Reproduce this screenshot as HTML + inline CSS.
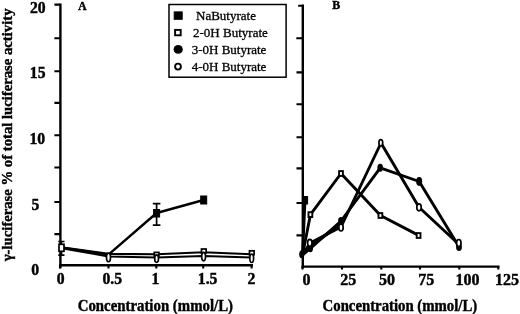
<!DOCTYPE html>
<html><head><meta charset="utf-8"><title>Figure</title>
<style>
html,body{margin:0;padding:0;background:#fff;}
svg{display:block;}
text{font-family:"Liberation Serif",serif;fill:#000;}
.b{font-weight:bold;stroke:#000;stroke-width:0.42;}
.ax{stroke:#000;stroke-width:2.4;fill:none;stroke-linecap:square;}
.tk{stroke:#000;stroke-width:2.1;fill:none;}
.ln{stroke:#000;fill:none;stroke-linejoin:round;stroke-linecap:round;}
.eb{stroke:#000;stroke-width:1.7;fill:none;}
.fs{fill:#000;stroke:#000;stroke-width:1;}
.os2{fill:#fff;stroke:#000;stroke-width:1.9;}
.os{fill:#fff;stroke:#000;stroke-width:1.7;}
</style></head><body>
<svg width="520" height="314" viewBox="0 0 520 314">
<rect width="520" height="314" fill="#fff"/>

<!-- Y axis title -->
<text class="b" transform="translate(11.6,261.3) rotate(-90)" font-size="15" textLength="252.8" lengthAdjust="spacingAndGlyphs">γ-luciferase % of total luciferase activity</text>

<!-- LEFT PANEL axes -->
<path class="ax" d="M60.4,4.6 V267"/>
<path class="ax" d="M60.4,265.2 H251.8"/>
<g class="tk">
<path d="M54.4,4.6H60 M54.4,38.2H60 M54.4,71.2H60 M54.4,102.9H60 M54.4,135.2H60 M54.4,167.5H60 M54.4,202H60 M54.4,234.1H60"/>
<path d="M60,265V268.6 M108.5,265V268.6 M156.3,265V268.6 M203.2,265V268.6 M251.6,265V268.6"/>
</g>
<g class="b" font-size="15.7">
<text x="30" y="13">20</text>
<text x="29.8" y="77.7">15</text>
<text x="29.5" y="143.5">10</text>
<text x="31.5" y="210.3">5</text>
<text x="31.3" y="274.5">0</text>
<text x="56.8" y="283.7">0</text>
<text x="102.4" y="283.7">0.5</text>
<text x="151.6" y="284.2">1</text>
<text x="197.8" y="284.2">1.5</text>
<text x="247.5" y="284.2">2</text>
</g>
<text class="b" x="77.7" y="310.8" font-size="16.3" textLength="155.3" lengthAdjust="spacingAndGlyphs">Concentration (mmol/L)</text>
<text class="b" x="78.3" y="9.8" font-size="11.5">A</text>

<!-- legend -->
<rect x="169" y="4.5" width="117.1" height="72.7" fill="#fff" stroke="#000" stroke-width="1.5"/>
<rect class="fs" x="174.2" y="11.9" width="8" height="7.4"/>
<rect x="175.1" y="29.9" width="5.6" height="5.4" fill="#fff" stroke="#000" stroke-width="1.9"/>
<ellipse cx="178.2" cy="49.4" rx="4.6" ry="4.3" fill="#000"/>
<ellipse cx="178" cy="66.6" rx="2.9" ry="3" fill="#fff" stroke="#000" stroke-width="1.9"/>
<g font-size="13" stroke="#000" stroke-width="0.3">
<text x="196" y="19.5" textLength="60" lengthAdjust="spacingAndGlyphs">NaButyrate</text>
<text x="193" y="36.7" textLength="74.8" lengthAdjust="spacingAndGlyphs">2-0H Butyrate</text>
<text x="191.7" y="53.5" textLength="74.7" lengthAdjust="spacingAndGlyphs">3-0H Butyrate</text>
<text x="191.7" y="70.6" textLength="74.7" lengthAdjust="spacingAndGlyphs">4-0H Butyrate</text>
</g>

<!-- LEFT data -->
<g class="ln" stroke-width="2.2">
<path d="M61.5,247.6 L108.5,254.6 L156.6,213 L203.7,200" stroke-width="2.4"/>
<path d="M61.5,247.3 L108.5,253.9 L156.5,254.2 L203.5,252.3 L251.7,254.2" stroke-width="2.1"/>
<path d="M61.5,248.2 L108.5,256.4 L156.5,257.4 L203.5,255.9 L251.7,257.5" stroke-width="2"/>
</g>
<g class="eb">
<path d="M61.5,241.5V255.2 M58.3,241.5H64.5 M58.3,255.2H64.5"/>
<path d="M156.6,203.7V225.1 M152.8,203.7H160.4 M152.8,225.1H160.4"/>
</g>
<!-- markers left -->
<rect class="os" x="59" y="244.3" width="5" height="7"/>
<rect class="fs" x="153.6" y="209.5" width="6" height="7.5"/>
<rect class="fs" x="200.7" y="196" width="6" height="8"/>
<ellipse class="os" cx="108.5" cy="257.4" rx="2" ry="4.2"/>
<rect class="os" x="154.3" y="252.4" width="4.6" height="3.4"/>
<ellipse class="os" cx="156.6" cy="258.6" rx="1.9" ry="3.8"/>
<rect class="os" x="201.5" y="249" width="4.6" height="4"/>
<ellipse class="os" cx="203.6" cy="256.6" rx="1.9" ry="4.2"/>
<rect class="os" x="249.5" y="250.8" width="4.6" height="4"/>
<ellipse class="os" cx="251.7" cy="258.3" rx="1.9" ry="4.2"/>

<!-- RIGHT PANEL axes -->
<path class="ax" d="M302.8,5.8 V267"/>
<path class="ax" d="M302.8,266.6 H498.3"/>
<g class="tk">
<path d="M298.2,5.7H302.5 M296.3,38.2H302.5 M296.5,72.4H302.5 M296.5,104.2H302.5 M296.5,137.3H302.5 M296.5,168.4H302.5 M296.5,203H302.5 M296.5,235.4H302.5"/>
<path d="M302.5,266.5V269.6 M342,266.5V269.6 M381.3,266.5V269.6 M420,266.5V269.6 M459.3,266.5V269.6 M498.3,266.5V269.6"/>
</g>
<g class="b" font-size="16">
<text x="302.6" y="285.3">0</text>
<text x="340.3" y="285.3">25</text>
<text x="379" y="285.3">50</text>
<text x="418.2" y="285.3">75</text>
<text x="455.6" y="285.3">100</text>
<text x="495" y="285.3">125</text>
</g>
<text class="b" x="322.6" y="310.8" font-size="16.3" textLength="154.6" lengthAdjust="spacingAndGlyphs">Concentration (mmol/L)</text>
<text class="b" x="332.3" y="9.2" font-size="11.8">B</text>

<!-- RIGHT data -->
<g class="ln" stroke-width="2.9">
<path d="M302.5,255 L305,200"/>
<path d="M302.5,255 L310.4,214.7 L341,173.5 L380.5,215.5 L418.7,235.4"/>
<path d="M302.5,255 L310.4,248.5 L341,221 L380.3,167.8 L419.2,181.5 L459,246.7"/>
<path d="M302.5,255 L310,243 L341,227 L381,143 L419,207.3 L458.8,244.2"/>
<path d="M311,245.6 L340.5,224.2" stroke-width="3.4"/>
</g>
<!-- markers right -->
<rect class="fs" x="303" y="196.5" width="4.6" height="7.5"/>
<rect class="os2" x="308.5" y="212.2" width="3.8" height="4.8"/>
<rect class="os2" x="339.1" y="171.1" width="3.8" height="4.8"/>
<rect class="os2" x="378.5" y="213.1" width="3.8" height="4.8"/>
<rect class="os2" x="416.7" y="233.1" width="3.8" height="4.8"/>
<ellipse cx="301.8" cy="254.3" rx="2.6" ry="4" fill="#000"/>
<ellipse cx="310.4" cy="248.6" rx="2.6" ry="3.6" fill="#000"/>
<ellipse cx="341" cy="221" rx="2.9" ry="4.1" fill="#000"/>
<ellipse cx="380.2" cy="167.7" rx="2.8" ry="4" fill="#000"/>
<ellipse cx="419.2" cy="181.5" rx="3" ry="4.4" fill="#000"/>
<ellipse cx="459" cy="247" rx="2.9" ry="4.1" fill="#000"/>
<ellipse class="os" cx="309.8" cy="242.8" rx="2.2" ry="3.5"/>
<ellipse class="os" cx="341" cy="227.5" rx="2.2" ry="3.5"/>
<ellipse class="os" cx="380.8" cy="142.8" rx="1.9" ry="3.2"/>
<ellipse class="os" cx="419" cy="207.3" rx="2.2" ry="3.5"/>
<ellipse class="os" cx="458.8" cy="243" rx="2.2" ry="3.5"/>
</svg>
</body></html>
